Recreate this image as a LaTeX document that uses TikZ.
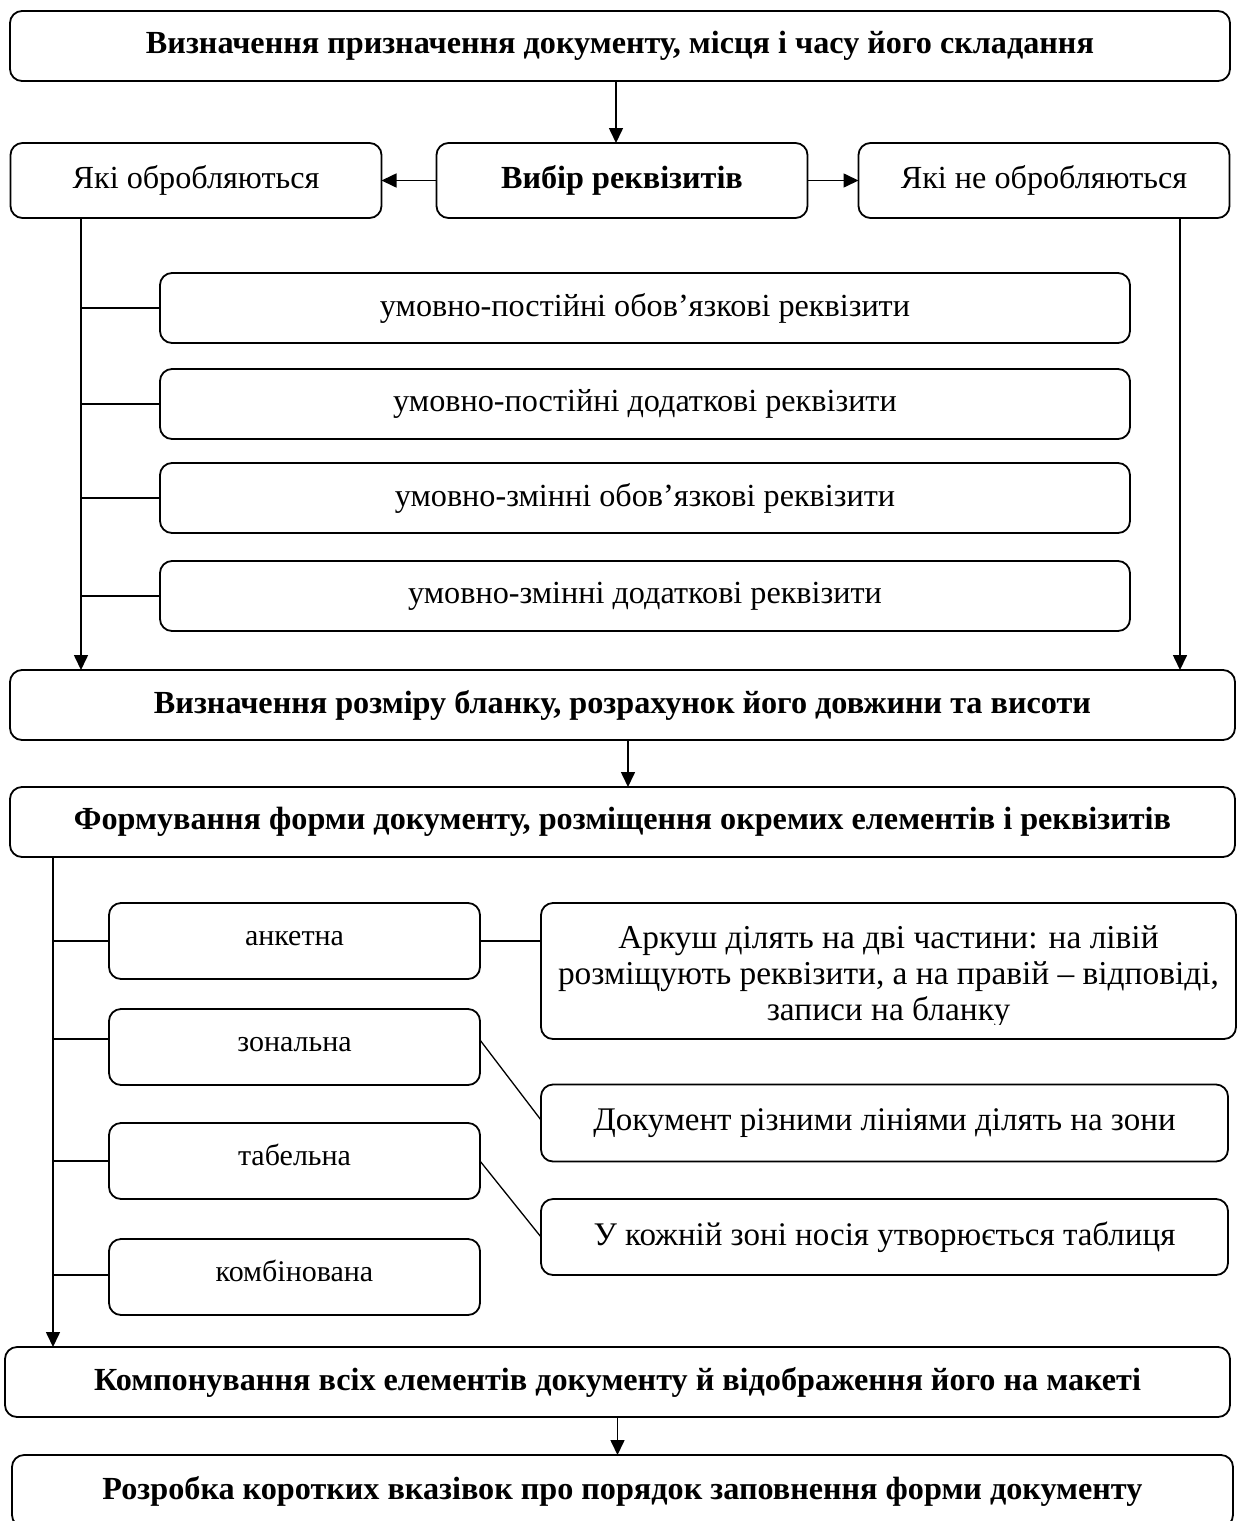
\documentclass[tikz,border=0pt]{standalone}
\usepackage{fontspec}
\setmainfont{Liberation Serif}
\usetikzlibrary{arrows.meta}
% text raised a little inside its box
\newcommand\liftup[1]{\raisebox{6pt}[\height][\depth]{\vphantom{б}#1}}
\begin{document}
\begin{tikzpicture}[x=1pt,y=-1pt,
  box/.style={draw, rounded corners=12pt, line width=1.8pt, inner sep=0pt, outer sep=0pt,
    align=center, font=\fontsize{32.2}{37}\selectfont},
  stage/.style={box, minimum width=1225pt, minimum height=70pt, font=\fontsize{32.2}{37}\selectfont\bfseries},
  sidebox/.style={box, minimum width=371pt, minimum height=75pt},
  reqbox/.style={box, minimum width=970pt, minimum height=70pt},
  formbox/.style={box, minimum width=371pt, minimum height=76pt, font=\fontsize{30}{36}\selectfont},
  notebox/.style={box, minimum width=687pt, minimum height=77pt, font=\fontsize{33}{37}\selectfont},
  link/.style={line width=1.6pt},
  thin/.style={line width=1.3pt},
  arr/.style={line width=1.6pt, -{Triangle[length=15pt,width=14pt]}}
]
\useasboundingbox (0,0) rectangle (1239,1521);

% main stages
\node[stage, minimum width=1220pt] (top) at (620,46) {Визначення призначення документу, місця і часу його складання};

\node[sidebox] (yes) at (196,180.5) {Які обробляються};
\node[sidebox, font=\fontsize{32.2}{37}\selectfont\bfseries] (vyb) at (622,180.5) {Вибір реквізитів};
\node[sidebox] (no) at (1044,180.5) {Які не обробляються};

% kinds of requisites
\node[reqbox] (r1) at (645,308) {умовно-постійні обов’язкові реквізити};
\node[reqbox] (r2) at (645,404) {умовно-постійні додаткові реквізити};
\node[reqbox] (r3) at (645,498) {умовно-змінні обов’язкові реквізити};
\node[reqbox] (r4) at (645,596) {умовно-змінні додаткові реквізити};

\node[stage] (rozm) at (622.5,705) {Визначення розміру бланку, розрахунок його довжини та висоти};
\node[stage] (form) at (622.5,822) {Формування форми документу, розміщення окремих елементів і реквізитів};

% kinds of forms
\node[formbox] (ank) at (294.5,941) {\liftup{анкетна}};
\node[formbox] (zon) at (294.5,1047) {\liftup{зональна}};
\node[formbox] (tab) at (294.5,1161) {\liftup{табельна}};
\node[formbox] (komb) at (294.5,1277) {\liftup{комбінована}};

% the three-line note; its last line is cut just below the baseline
\node[box, minimum width=695pt, minimum height=136pt] (ark) at (888.5,971) {};
\begin{scope}
  \clip (541,900) rectangle (1240,1024);
  \node[align=center, inner sep=0pt, font=\fontsize{33.4}{36}\selectfont] (arktext) at (888.5,977)
    {Аркуш ділять на дві частини: на лівій\\розміщують реквізити, а на правій – відповіді,\\записи на бланку};
\end{scope}
\node[notebox] (dok) at (884.5,1123) {Документ різними лініями ділять на зони};
\node[notebox, minimum height=76pt] (kozh) at (884.5,1237) {У кожній зоні носія утворюється таблиця};

\node[stage] (komp) at (617.5,1382) {Компонування всіх елементів документу й відображення його на макеті};
\node[stage, minimum width=1221pt, minimum height=72pt] (rozr) at (622.5,1491) {Розробка коротких вказівок про порядок заповнення форми документу};

% connectors of the upper part
\draw[arr] ([xshift=-6pt]vyb.north |- top.south) -- ([xshift=-6pt]vyb.north);
\draw[arr] (vyb) -- (yes);
\draw[arr] (vyb) -- (no);

\coordinate (lA) at (81,218);
\coordinate (rA) at (1180,218);
\draw[arr] (lA) -- (lA |- rozm.north);
\draw[arr] (rA) -- (rA |- rozm.north);
\foreach \r in {r1,r2,r3,r4}
  \draw[link] (lA |- \r.west) -- (\r.west);

\draw[arr] ([xshift=5.5pt]rozm.south) -- ([xshift=5.5pt]form.north);

% connectors of the lower part
\coordinate (lB) at (53,857);
\draw[arr] (lB) -- (lB |- komp.north);
\draw[link] (lB |- ank.west) -- (ank.west);
\draw[link] ([yshift=8pt]lB |- zon.west) -- ([yshift=8pt]zon.west);
\draw[link] (lB |- tab.west) -- (tab.west);
\draw[link] ([yshift=2pt]lB |- komb.west) -- ([yshift=2pt]komb.west);

\draw[link] (ank.east) -- (ank.east -| ark.west);
\draw[thin] ([yshift=7pt]zon.east) -- ([yshift=3pt]dok.west);
\draw[thin] (tab.east) -- (kozh.west);

\draw[arr] (komp.south) -- (komp.south |- rozr.north);
\end{tikzpicture}
\end{document}
